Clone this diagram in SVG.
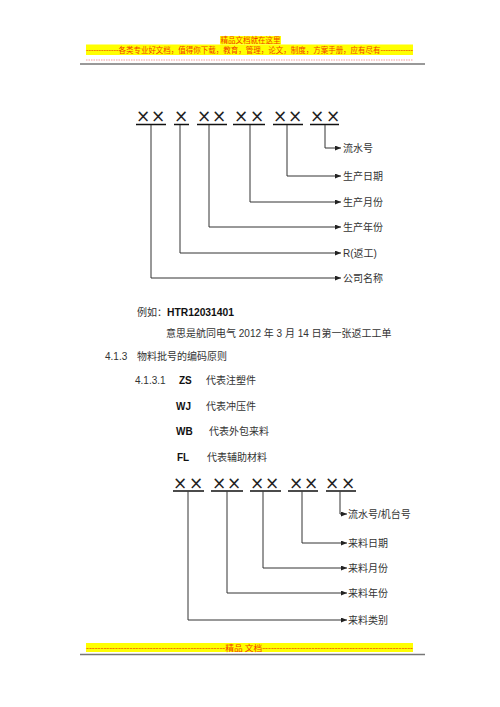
<svg xmlns="http://www.w3.org/2000/svg" width="500" height="707" viewBox="0 0 500 707">
<style>
.cn{font-family:"Liberation Sans","Noto Sans CJK SC",sans-serif;font-size:10px;fill:#333}
.lat{font-family:"Liberation Sans","Noto Sans CJK SC",sans-serif;font-size:10px;fill:#333}
.b{font-family:"Liberation Sans",sans-serif;font-weight:bold;font-size:10px;fill:#111}
.x{font-family:"DejaVu Sans",sans-serif;font-size:17px;fill:#222;text-anchor:middle}
.ul{stroke:#111;stroke-width:1.5;fill:none}
.con{stroke:#333;stroke-width:1;fill:none;marker-end:url(#arr)}
.hd{font-family:"Liberation Serif","Noto Sans CJK SC",serif;font-size:7.5px;fill:#f03c00}
</style>
<defs>
<marker id="arr" markerWidth="6" markerHeight="5" refX="6" refY="2.5" orient="auto" markerUnits="userSpaceOnUse">
<path d="M0,0 L6,2.5 L0,5 Z" fill="#222"/>
</marker>
</defs>
<rect width="500" height="707" fill="#fff"/>

<g id="header">
<rect x="220" y="36" width="61" height="8.5" fill="#ffff00"/>
<rect x="86" y="44.5" width="327" height="10.5" fill="#ffff00"/>
<text class="hd" x="250.5" y="43" text-anchor="middle">精品文档就在这里</text>
<text class="hd" x="86" y="52.5" textLength="327" lengthAdjust="spacingAndGlyphs">-------------各类专业好文档，值得你下载，教育，管理，论文，制度，方案手册，应有尽有-------------</text>
<line x1="86" y1="60" x2="413" y2="60" stroke="#f08080" stroke-width="0.8" stroke-dasharray="1.5,1"/>
<line x1="80" y1="64" x2="425" y2="64" stroke="#777" stroke-width="1.5"/>
</g>

<g id="code1">
<text class="x" x="143" y="122">×</text><text class="x" x="158" y="122">×</text>
<text class="x" x="181" y="122">×</text>
<text class="x" x="204" y="122">×</text><text class="x" x="219" y="122">×</text>
<text class="x" x="241" y="122">×</text><text class="x" x="257" y="122">×</text>
<text class="x" x="280" y="122">×</text><text class="x" x="295" y="122">×</text>
<text class="x" x="317" y="122">×</text><text class="x" x="333" y="122">×</text>
<path class="ul" d="M136,124.5H166M174,124.5H189M197,124.5H227M233,124.5H265M273,124.5H303M310,124.5H339"/>
</g>

<g id="connectors1">
<path class="con" d="M151,125V278H341"/>
<path class="con" d="M180,125V253H341"/>
<path class="con" d="M209,125V227H341"/>
<path class="con" d="M250,125V202H341"/>
<path class="con" d="M287,125V176H341"/>
<path class="con" d="M325,125V148H341"/>
</g>

<g id="labels1">
<text class="cn" x="343" y="151.5">流水号</text>
<text class="cn" x="343" y="179.5">生产日期</text>
<text class="cn" x="343" y="205.5">生产月份</text>
<text class="cn" x="343" y="230.5">生产年份</text>
<text class="cn" x="343" y="256.5">R(返工)</text>
<text class="cn" x="343" y="281.5">公司名称</text>
</g>

<g id="body">
<text class="cn" x="137" y="316">例如：</text>
<text class="b" x="167" y="316" textLength="67" lengthAdjust="spacingAndGlyphs">HTR12031401</text>
<text class="cn" x="166" y="337">意思是航同电气 2012 年 3 月 14 日第一张返工工单</text>
<text class="lat" x="105" y="360">4.1.3</text>
<text class="cn" x="137" y="360">物料批号的编码原则</text>
<text class="lat" x="135" y="383.5">4.1.3.1</text>
<text class="b" x="179" y="383.5">ZS</text>
<text class="cn" x="206" y="383.5">代表注塑件</text>
<text class="b" x="176" y="409.5">WJ</text>
<text class="cn" x="206" y="409.5">代表冲压件</text>
<text class="b" x="176" y="435">WB</text>
<text class="cn" x="209" y="435">代表外包来料</text>
<text class="b" x="177" y="460.5">FL</text>
<text class="cn" x="207" y="460.5">代表辅助材料</text>
</g>

<g id="code2">
<text class="x" x="180" y="488.5">×</text><text class="x" x="196" y="488.5">×</text>
<text class="x" x="219" y="488.5">×</text><text class="x" x="234" y="488.5">×</text>
<text class="x" x="257" y="488.5">×</text><text class="x" x="272" y="488.5">×</text>
<text class="x" x="296" y="488.5">×</text><text class="x" x="311" y="488.5">×</text>
<text class="x" x="332" y="488.5">×</text><text class="x" x="348" y="488.5">×</text>
<path class="ul" d="M173,491H204M211,491H243M250,491H281M288,491H318M326,491H356"/>
</g>

<g id="connectors2">
<path class="con" d="M188,491.5V620H347"/>
<path class="con" d="M227,491.5V593H347"/>
<path class="con" d="M263,491.5V568H347"/>
<path class="con" d="M302,491.5V543H347"/>
<path class="con" d="M340,491.5V514H347"/>
</g>

<g id="labels2">
<text class="cn" x="348" y="517.5">流水号/机台号</text>
<text class="cn" x="348" y="546.5">来料日期</text>
<text class="cn" x="348" y="571.5">来料月份</text>
<text class="cn" x="348" y="596.5">来料年份</text>
<text class="cn" x="348" y="623.5">来料类别</text>
</g>

<g id="footer">
<rect x="86" y="643" width="327" height="9" fill="#ffff00"/>
<text class="hd" x="86" y="650.5" textLength="327" lengthAdjust="spacingAndGlyphs">------------------------------------------------精品    文档----------------------------------------------------</text>
<line x1="80" y1="654.5" x2="425" y2="654.5" stroke="#777" stroke-width="1.5"/>
</g>
</svg>
